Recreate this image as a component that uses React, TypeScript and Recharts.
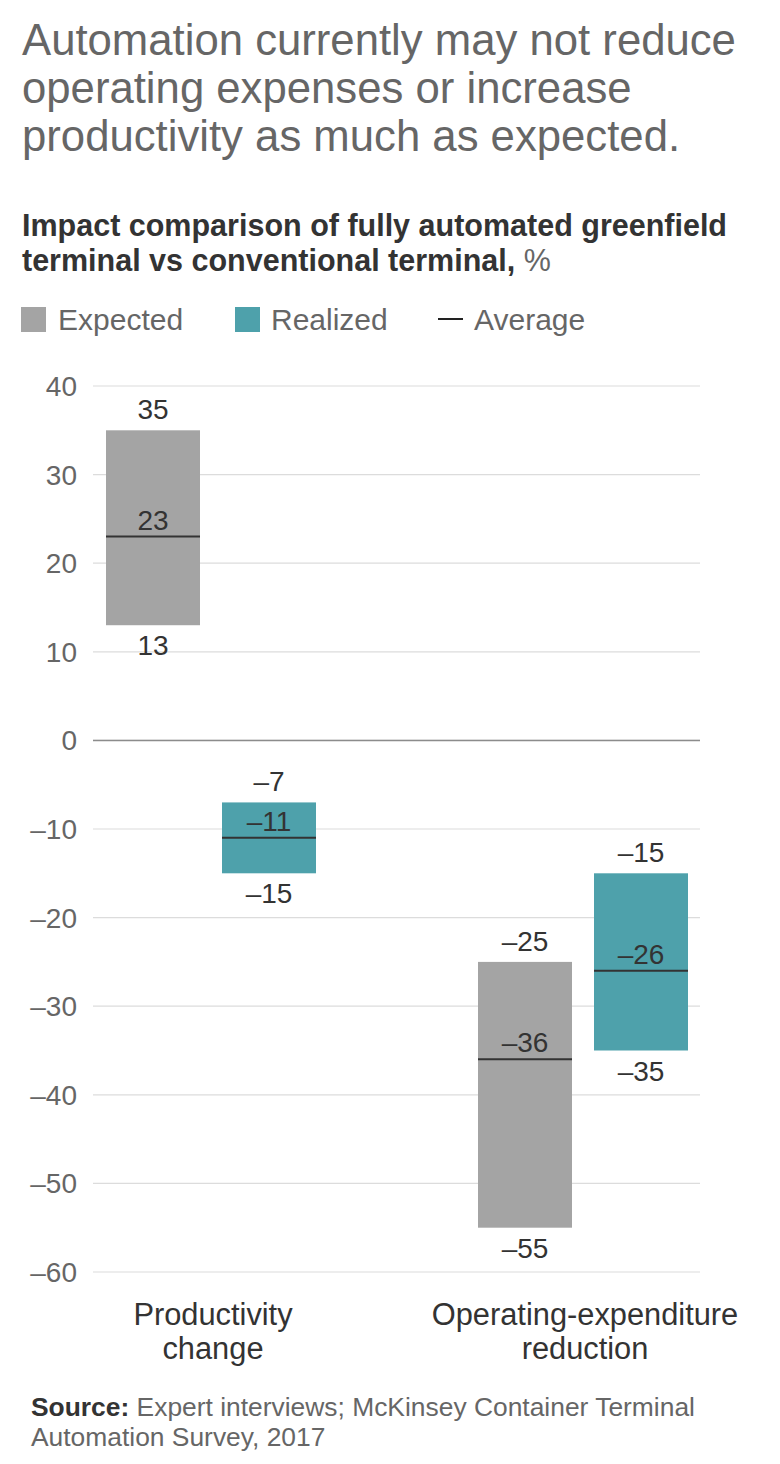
import React from 'react';
import { BarChart, Bar, XAxis, YAxis, CartesianGrid, ReferenceLine } from 'recharts';

const categories = ['Productivity change', 'Operating-expenditure reduction'];
const categoryLines = [['Productivity', 'change'], ['Operating-expenditure', 'reduction']];
const expectedLow = [13, -55];
const expectedHigh = [35, -25];
const expectedAvg = [23, -36];
const realizedLow = [-15, -35];
const realizedHigh = [-7, -15];
const realizedAvg = [-11, -26];
const yTicks = [-60, -50, -40, -30, -20, -10, 0, 10, 20, 30, 40];

const FONT = '"Liberation Sans", Arial, Helvetica, sans-serif';
const GRAY_BAR = '#a4a4a4';
const TEAL_BAR = '#4ea1ab';

const data = categories.map((c, i) => ({
  category: c,
  expected: [expectedLow[i], expectedHigh[i]],
  expectedAvg: expectedAvg[i],
  realized: [realizedLow[i], realizedHigh[i]],
  realizedAvg: realizedAvg[i],
}));

const fmt = (v: number) => (v < 0 ? '\u2013' + Math.abs(v) : String(v));

const makeShape = (rangeKey: string, avgKey: string, fill: string) => (props: any) => {
  const { x, y, width, height, payload } = props;
  if (x == null || y == null) return null;
  const top = Math.min(y, y + height);
  const h = Math.abs(height);
  const [lo, hi] = payload[rangeKey];
  const avg = payload[avgKey];
  const avgY = top + ((hi - avg) / (hi - lo)) * h;
  const cx = x + width / 2;
  const textStyle = { fontFamily: FONT, fontSize: 28, fill: '#333' };
  return (
    <g>
      <rect x={x} y={top} width={width} height={h} fill={fill} />
      <line x1={x} x2={x + width} y1={avgY} y2={avgY} stroke="#333" strokeWidth={2} />
      <text x={cx} y={top - 11} textAnchor="middle" style={textStyle}>{fmt(hi)}</text>
      <text x={cx} y={avgY - 7} textAnchor="middle" style={textStyle}>{fmt(avg)}</text>
      <text x={cx} y={top + h + 30} textAnchor="middle" style={textStyle}>{fmt(lo)}</text>
    </g>
  );
};

const XTick = (props: any) => {
  const { x, y, index } = props;
  const lines = categoryLines[index] || [String(props.payload.value)];
  return (
    <g>
      {lines.map((l: string, i: number) => (
        <text key={i} x={x + 2} y={y + 45 + i * 34} textAnchor="middle"
          style={{ fontFamily: FONT, fontSize: 30.8, fill: '#333' }}>{l}</text>
      ))}
    </g>
  );
};

const YTick = (props: any) => {
  const { x, y, payload } = props;
  return (
    <text x={x + 1} y={y} dy="0.355em" textAnchor="end"
      style={{ fontFamily: FONT, fontSize: 28, fill: '#666' }}>{fmt(payload.value)}</text>
  );
};

export default function App() {
  return (
    <div style={{ position: 'absolute', left: 0, top: 0, width: 780, height: 1464, background: '#fff', fontFamily: FONT }}>
      <div style={{ position: 'absolute', left: 0, top: 0 }}>
        <BarChart
          width={780}
          height={1464}
          data={data}
          margin={{ top: 386, right: 80, bottom: 92, left: 23 }}
          barSize={94}
          barGap={22}
        >
          <CartesianGrid horizontal vertical={false} stroke="#dcdcdc" strokeWidth={1.2} />
          <XAxis
            dataKey="category"
            axisLine={false}
            tickLine={false}
            height={100}
            padding={{ left: -68, right: -69 }}
            tick={<XTick />}
            interval={0}
          />
          <YAxis
            type="number"
            domain={[-60, 40]}
            ticks={yTicks}
            width={70}
            axisLine={false}
            tickLine={false}
            tickMargin={11}
            tick={<YTick />}
            interval={0}
          />
          <ReferenceLine y={0} stroke="#8c8c8c" strokeWidth={1.5} />
          <Bar dataKey="expected" isAnimationActive={false} fill={GRAY_BAR} shape={makeShape('expected', 'expectedAvg', GRAY_BAR)} />
          <Bar dataKey="realized" isAnimationActive={false} fill={TEAL_BAR} shape={makeShape('realized', 'realizedAvg', TEAL_BAR)} />
        </BarChart>
      </div>

      <div style={{ position: 'absolute', left: 22, top: 16, fontSize: 43.7, lineHeight: '48px', color: '#666', width: 760 }}>
        Automation currently may not reduce<br />operating expenses or increase<br />productivity as much as expected.
      </div>

      <div style={{ position: 'absolute', left: 22, top: 208, fontSize: 30.5, lineHeight: '35px', color: '#333', fontWeight: 'bold', width: 760 }}>
        Impact comparison of fully automated greenfield<br />terminal vs conventional terminal, <span style={{ fontWeight: 'normal', color: '#666' }}>%</span>
      </div>

      <div style={{ position: 'absolute', left: 0, top: 300, width: 780, height: 40, fontSize: 30, color: '#666' }}>
        <div style={{ position: 'absolute', left: 21, top: 7, width: 25, height: 25, background: GRAY_BAR }} />
        <div style={{ position: 'absolute', left: 58, top: 0, lineHeight: '40px' }}>Expected</div>
        <div style={{ position: 'absolute', left: 235, top: 7, width: 25, height: 25, background: TEAL_BAR }} />
        <div style={{ position: 'absolute', left: 271, top: 0, lineHeight: '40px' }}>Realized</div>
        <div style={{ position: 'absolute', left: 438, top: 18, width: 25, height: 2, background: '#222' }} />
        <div style={{ position: 'absolute', left: 474, top: 0, lineHeight: '40px' }}>Average</div>
      </div>

      <div style={{ position: 'absolute', left: 31, top: 1392, fontSize: 26.4, lineHeight: '30px', color: '#666', width: 745 }}>
        <span style={{ fontWeight: 'bold', color: '#333' }}>Source:</span> Expert interviews; McKinsey Container Terminal<br />Automation Survey, 2017
      </div>
    </div>
  );
}
